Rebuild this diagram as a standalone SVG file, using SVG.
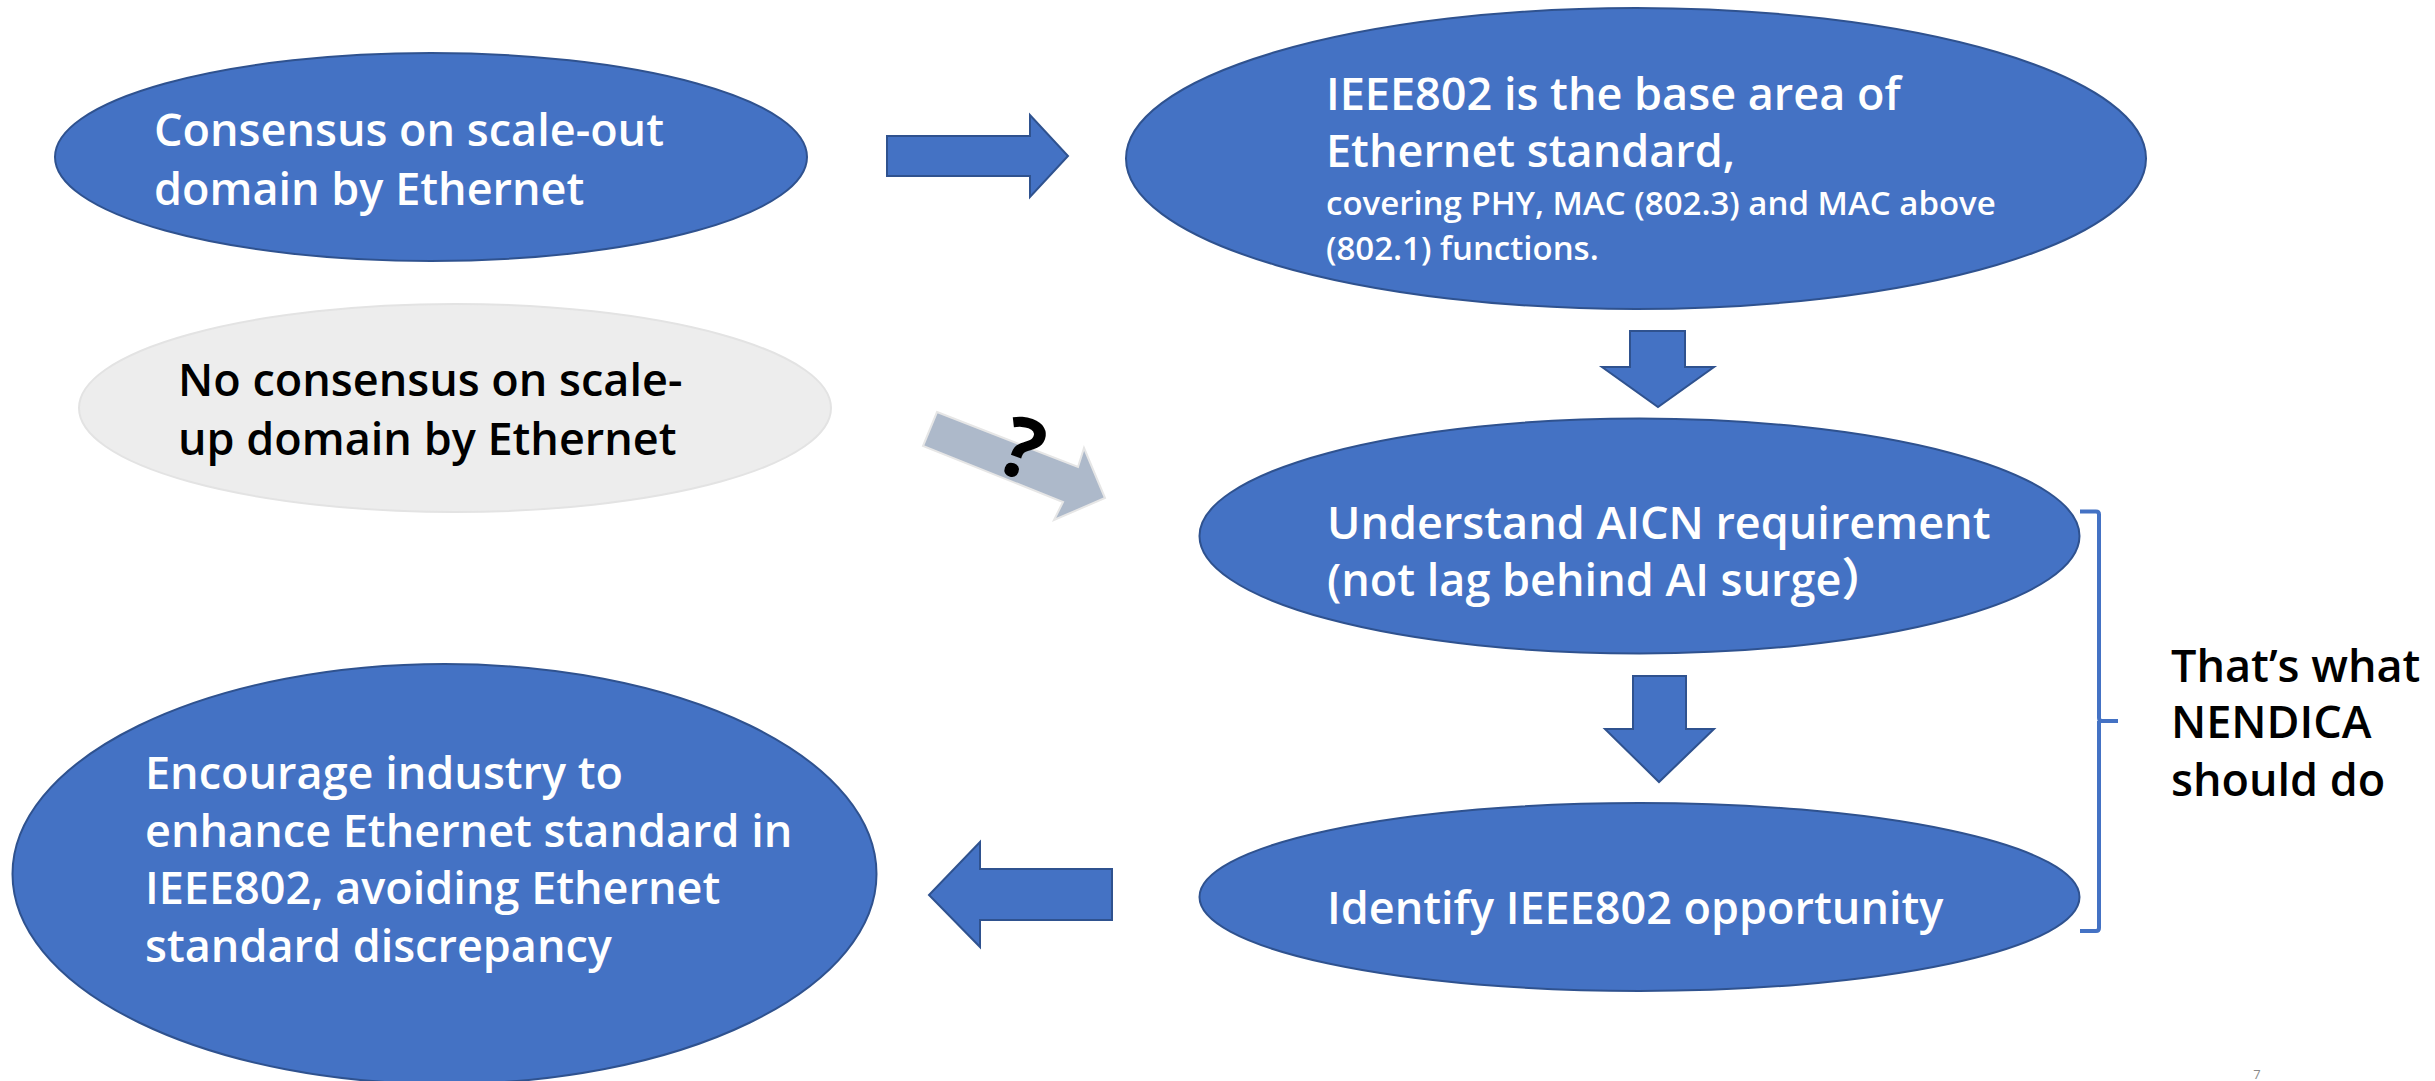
<svg xmlns="http://www.w3.org/2000/svg" width="2435" height="1081" viewBox="0 0 2435 1081">
<style>
.blue{fill:#4472C4;stroke:#2F528F;stroke-width:2}
.gray{fill:#EDEDED;stroke:#E3E3E3;stroke-width:2}
.t{font-family:"Open Sans","Noto Sans","Noto Sans CJK SC",sans-serif;font-weight:600;font-size:45px}
.w{fill:#FFFFFF}
.k{fill:#000000}
.s{font-size:33px}
.q{font-size:84px;font-weight:700}
</style>
<rect width="2435" height="1081" fill="#FFFFFF"/>
<g id="connectors">
<polygon class="blue" points="887,136 1030,136 1030,115 1068,156 1030,197 1030,176 887,176"/>
<polygon class="blue" points="1630,331 1685,331 1685,367 1714,367 1658,407 1602,367 1630,367"/>
<polygon class="blue" points="1633,676 1686,676 1686,729 1714,729 1659,782 1605,729 1633,729"/>
<polygon class="blue" points="1112,869 980,869 980,842 929,895 980,947 980,920 1112,920"/>
<g id="question-arrow">
<polygon points="937,412 1078,467 1084,448 1105,498 1054,520 1063,502 923,446" fill="#ADB9CA" stroke="#E6E6E6" stroke-width="2"/>
<text class="t k q" x="1022" y="478" text-anchor="middle" transform="rotate(20 1022 450)">?</text>
</g>
<path d="M2080,511.5 H2096 Q2099,511.5 2099,514.5 V718 Q2099,721 2102,721 H2118 M2099,721 Q2099,724 2099,727 V928 Q2099,931 2096,931 H2080" fill="none" stroke="#4472C4" stroke-width="4"/>
</g>
<g id="node-scaleout">
<ellipse class="blue" cx="431" cy="157" rx="376" ry="104"/>
<text class="t w" x="154" y="146">Consensus on scale-out</text>
<text class="t w" x="154" y="205">domain by Ethernet</text>
</g>
<g id="node-scaleup">
<ellipse class="gray" cx="455" cy="408" rx="376" ry="104"/>
<text class="t k" x="178" y="396">No consensus on scale-</text>
<text class="t k" x="178" y="455">up domain by Ethernet</text>
</g>
<g id="node-ieee802">
<ellipse class="blue" cx="1636" cy="158.5" rx="510" ry="150.5"/>
<text class="t w" x="1326" y="110">IEEE802 is the base area of</text>
<text class="t w" x="1326" y="167">Ethernet standard,</text>
<text class="t w s" x="1326" y="215">covering PHY, MAC (802.3) and MAC above</text>
<text class="t w s" x="1326" y="260">(802.1) functions.</text>
</g>
<g id="node-aicn">
<ellipse class="blue" cx="1639.5" cy="536" rx="440" ry="117.5"/>
<text class="t w" x="1327" y="539">Understand AICN requirement</text>
<text class="t w" x="1327" y="596">(not lag behind AI surge）</text>
</g>
<g id="node-identify">
<ellipse class="blue" cx="1639.5" cy="897" rx="440" ry="94"/>
<text class="t w" x="1327" y="924">Identify IEEE802 opportunity</text>
</g>
<g id="node-encourage">
<ellipse class="blue" cx="444.5" cy="874" rx="432" ry="210"/>
<text class="t w" x="145" y="789">Encourage industry to</text>
<text class="t w" x="145" y="847">enhance Ethernet standard in</text>
<text class="t w" x="145" y="904">IEEE802, avoiding Ethernet</text>
<text class="t w" x="145" y="962">standard discrepancy</text>
</g>
<g id="node-nendica">
<text class="t k" x="2171" y="682">That’s what</text>
<text class="t k" x="2171" y="738">NENDICA</text>
<text class="t k" x="2171" y="796">should do</text>
</g>
<text x="2257" y="1079" font-family="Open Sans, sans-serif" font-size="13" fill="#898989" text-anchor="middle">7</text>
</svg>
